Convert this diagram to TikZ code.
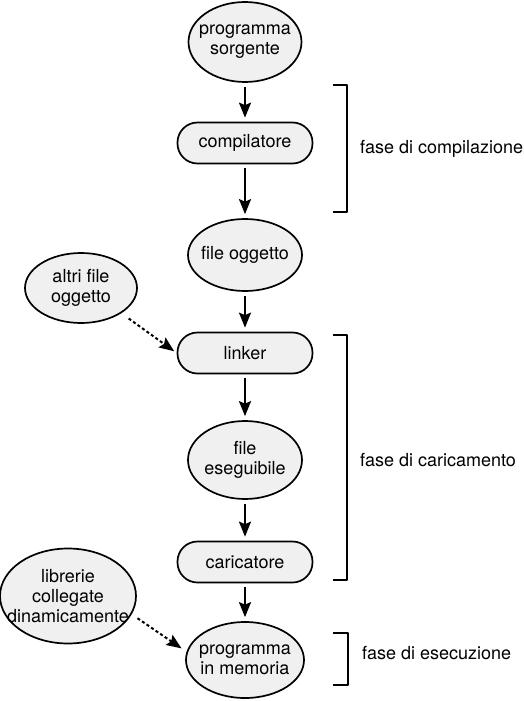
\documentclass[tikz,border=0pt]{standalone}
\usepackage{fontspec}
\setmainfont{TeX Gyre Heros}
\usetikzlibrary{arrows.meta,shapes.geometric}
\begin{document}
\begin{tikzpicture}[x=1pt,y=-1pt,>={Stealth[length=15pt,width=12pt,inset=2.5pt]},line join=round,font=\fontsize{18}{20}\selectfont,
	ell/.style={draw,ellipse,fill=gray!12,line width=1.7pt,inner sep=-20pt,align=center},
	box/.style={draw,rectangle,rounded corners=20pt,fill=gray!12,line width=1.7pt,minimum width=135pt,minimum height=41pt},
	arr/.style={->,line width=2.2pt,shorten <=4pt,shorten >=4pt},
	tratt/.style={->,line width=2pt,dash pattern=on 3pt off 2.5pt},
	brace/.style={line width=2.2pt},
	fase/.style={anchor=west,inner sep=0pt}]
				\useasboundingbox (0,0) rectangle (523,701);
				% colonna centrale
				\node[ell,minimum width=113pt,minimum height=80pt] (ps) at (245,42) {programma\\sorgente};
				\node[box] (comp) at (245,143) {compilatore};
				\node[ell,minimum width=114pt,minimum height=72pt] (fo) at (245,255) {file oggetto};
				\node[box] (lk) at (245,353) {linker};
				\node[ell,minimum width=114pt,minimum height=78pt] (fe) at (245,460) {file\\eseguibile};
				\node[box] (car) at (245,562) {caricatore};
				\node[ell,minimum width=118pt,minimum height=76pt] (pm) at (245,660) {programma\\in memoria};
				% a sinistra
				\node[ell,minimum width=112pt,minimum height=70pt] (ao) at (81,288) {altri file\\oggetto};
				\node[ell,minimum width=136pt,minimum height=95pt] (lib) at (68,596) {librerie\\collegate\\dinamicamente};
				\foreach \a/\b in {ps/comp,comp/fo,fo/lk,lk/fe,fe/car,car/pm}\draw[arr] (\a) -- (\b);
				\draw[tratt,shorten <=9pt,shorten >=3pt] (ao.-32) -- (lk.west);
				\draw[tratt,shorten <=7pt,shorten >=6pt] (lib.-16) -- (pm.172);
				% fasi
				\draw[brace] (333,85) -- (347,85) -- (347,212) -- (333,212);
				\draw[brace] (333,335) -- (347,335) -- (347,580) -- (333,580);
				\draw[brace] (333,633) -- (348,633) -- (348,685) -- (333,685);
				\node[fase] (fc) at (360,149) {fase di compilazione};
				\node[fase] (fcar) at (360,460) {fase di caricamento};
				\node[fase] (fes) at (362,653) {fase di esecuzione};
			\end{tikzpicture}
\end{document}
